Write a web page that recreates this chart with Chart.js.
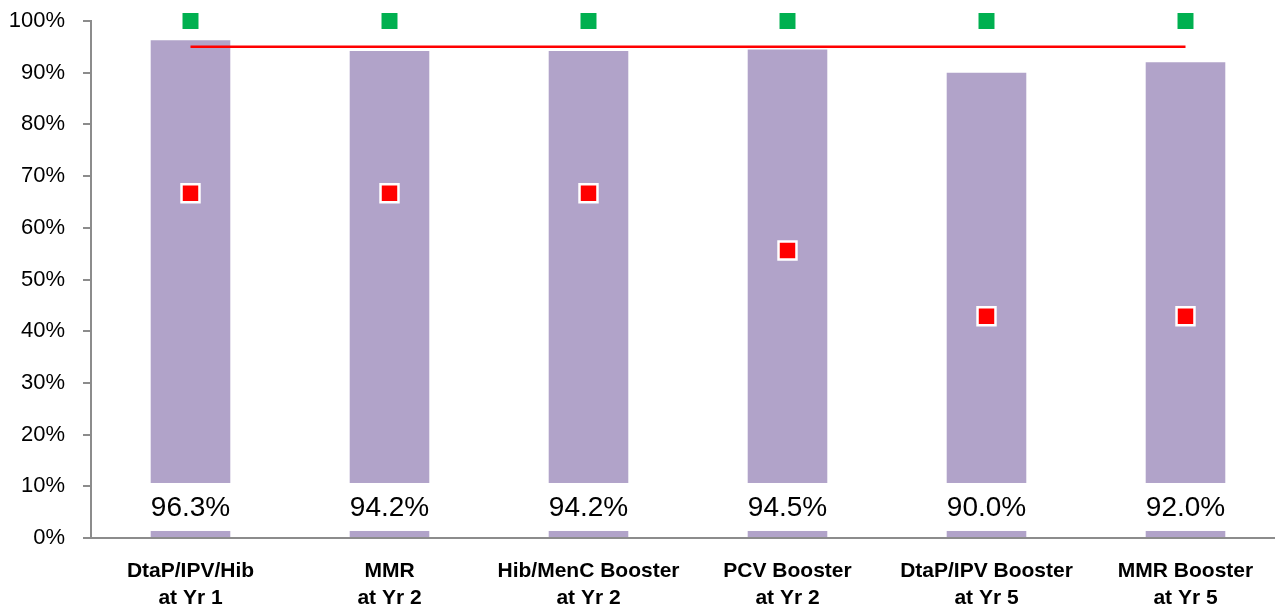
<!DOCTYPE html>
<html>
<head>
<meta charset="utf-8">
<script src="https://cdn.jsdelivr.net/npm/chart.js@4/dist/chart.umd.min.js"></script>
<style>
  html, body { margin: 0; padding: 0; background: #fff; overflow: hidden; }
  #wrap { width: 1285px; height: 610px; }
</style>
</head>
<body>
<div id="wrap"><canvas id="coverageChart" width="1285" height="610"></canvas></div>
<script>
// Chart values
const categories = [
    ['DtaP/IPV/Hib', 'at Yr 1'],
    ['MMR', 'at Yr 2'],
    ['Hib/MenC Booster', 'at Yr 2'],
    ['PCV Booster', 'at Yr 2'],
    ['DtaP/IPV Booster', 'at Yr 5'],
    ['MMR Booster', 'at Yr 5']
];
const coverage = [96.3, 94.2, 94.2, 94.5, 90.0, 92.0];
const target = [95, 95, 95, 95, 95, 95];
const greenMarks = [100, 100, 100, 100, 100, 100];
const redMarks = [66.7, 66.7, 66.7, 55.6, 42.9, 42.9];
const yTicks = [0, 10, 20, 30, 40, 50, 60, 70, 80, 90, 100];

const LABEL_AT = 6; // value label box sits around 6% on the y scale

// white boxes with the coverage value near the bottom of each bar
const valueLabels = {
    id: 'valueLabels',
    afterDatasetsDraw(chart) {
        const ctx = chart.ctx;
        const meta = chart.getDatasetMeta(0);
        const y = chart.scales.y.getPixelForValue(LABEL_AT);
        ctx.save();
        ctx.font = '28px "Liberation Sans", Arial, sans-serif';
        ctx.textAlign = 'center';
        ctx.textBaseline = 'middle';
        meta.data.forEach((bar, i) => {
            ctx.fillStyle = '#ffffff';
            ctx.fillRect(bar.x - bar.width / 2 - 4, y - 24, bar.width + 8, 48);
            ctx.fillStyle = '#000000';
            ctx.fillText(coverage[i].toFixed(1) + '%', bar.x, y + 1);
        });
        ctx.restore();
    }
};

new Chart(document.getElementById('coverageChart').getContext('2d'), {
    data: {
        labels: categories,
        datasets: [
            {
                type: 'bar',
                data: coverage,
                backgroundColor: '#B1A3C9',
                barPercentage: 0.4,
                categoryPercentage: 1,
                order: 4
            },
            {
                type: 'line',
                data: target,
                borderColor: '#FF0000',
                borderWidth: 2.5,
                pointRadius: 0,
                fill: false,
                order: 3
            },
            {
                type: 'line',
                data: greenMarks,
                showLine: false,
                pointStyle: 'rect',
                pointRadius: 11.3,
                pointBackgroundColor: '#00B050',
                pointBorderWidth: 0,
                clip: false,
                order: 2
            },
            {
                type: 'line',
                data: redMarks,
                showLine: false,
                pointStyle: 'rect',
                pointRadius: 12.7,
                pointBackgroundColor: '#FF0000',
                pointBorderColor: '#FFFFFF',
                pointBorderWidth: 2.5,
                order: 1
            }
        ]
    },
    options: {
        responsive: false,
        animation: false,
        layout: { autoPadding: false, padding: { top: 21, right: 0, bottom: 0, left: 0 } },
        plugins: {
            legend: { display: false },
            tooltip: { enabled: false }
        },
        scales: {
            x: {
                offset: true,
                grid: { display: false, drawTicks: false },
                border: { display: true, color: '#8C8C8C', width: 2 },
                ticks: {
                    color: '#000',
                    padding: 20,
                    maxRotation: 0,
                    autoSkip: false,
                    font: { family: '"Liberation Sans", Arial, sans-serif', size: 21, weight: 'bold', lineHeight: 1.28 }
                },
                afterFit(scale) { scale.height = 72; }
            },
            y: {
                min: 0,
                max: 100,
                grid: { drawOnChartArea: false, drawTicks: true, tickLength: 8, color: '#8C8C8C', lineWidth: 2 },
                border: { display: true, color: '#8C8C8C', width: 2 },
                afterBuildTicks(scale) { scale.ticks = yTicks.map(v => ({ value: v })); },
                ticks: {
                    color: '#000',
                    padding: 18,
                    callback: v => v + '%',
                    font: { family: '"Liberation Sans", Arial, sans-serif', size: 22 }
                },
                afterFit(scale) {
                    scale.width = 91;
                    scale.paddingTop = 0;
                    scale.paddingBottom = 0;
                }
            }
        }
    },
    plugins: [valueLabels]
});
</script>
</body>
</html>
